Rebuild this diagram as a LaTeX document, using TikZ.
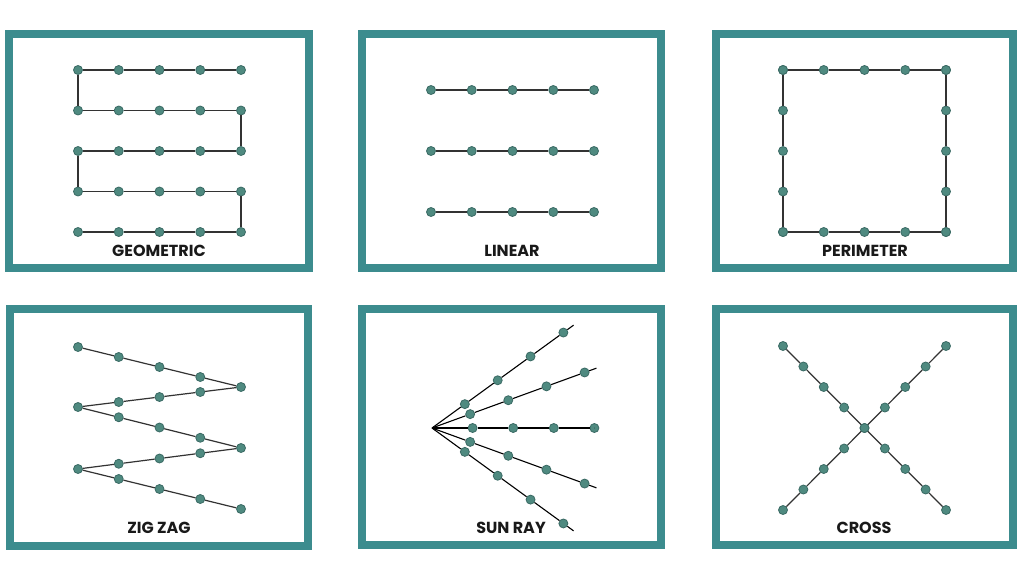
\documentclass[tikz,border=0pt]{standalone}
\usepackage{fontspec}
\setmainfont{Poppins}
\usetikzlibrary{calc}

\definecolor{frameteal}{HTML}{3C8C8E}
\definecolor{pinfill}{HTML}{4F8A80}
\definecolor{pinedge}{HTML}{3A6A64}

\begin{document}
\begin{tikzpicture}[x=1pt, y=-1pt,
  pin/.style={circle, fill=pinfill, draw=pinedge, line width=0.8pt, inner sep=0pt, minimum size=9pt},
  thread/.style={line width=1.2pt, draw=black!80},
  panel/.style={draw=frameteal, line width=8pt},
  caption/.style={font=\bfseries\fontsize{16}{16}\selectfont, text=black!90}]

\useasboundingbox[fill=white] (0,0) rectangle (1024,576);

% frames
\draw[panel] (9,34) rectangle (309,268);
\draw[panel] (362,34) rectangle (661,268);
\draw[panel] (716,34) rectangle (1013,268);
\draw[panel] (10,309) rectangle (308,546);
\draw[panel] (362,309) rectangle (661,545);
\draw[panel] (716,309) rectangle (1013,545);

% geometric
\foreach \j in {0,...,4} {
  \foreach \i in {0,...,4}
    \node[pin] (g-\i-\j) at (78+40.75*\i, 70+40.5*\j) {};
  \foreach \i [evaluate=\i as \n using int(\i+1)] in {0,...,3}
    \draw[thread] (g-\i-\j) -- (g-\n-\j);
}
\draw[thread] (g-0-0) -- (g-0-1);
\draw[thread] (g-4-1) -- (g-4-2);
\draw[thread] (g-0-2) -- (g-0-3);
\draw[thread] (g-4-3) -- (g-4-4);
\node[caption] (geolabel) at (159,251) {GEOMETRIC};

% linear
\foreach \j in {0,1,2} {
  \foreach \i in {0,...,4}
    \node[pin] (l-\i-\j) at (431+40.75*\i, 90+61*\j) {};
  \foreach \i [evaluate=\i as \n using int(\i+1)] in {0,...,3}
    \draw[thread] (l-\i-\j) -- (l-\n-\j);
}
\node[caption] (linlabel) at (512,251) {LINEAR};

% perimeter
\foreach \i in {0,...,4} {
  \node[pin] (p-\i-0) at (783+40.75*\i, 70) {};
  \node[pin] (p-\i-4) at (783+40.75*\i, 232) {};
  \node[pin] (p-0-\i) at (783, 70+40.5*\i) {};
  \node[pin] (p-4-\i) at (946, 70+40.5*\i) {};
}
\foreach \i [evaluate=\i as \n using int(\i+1)] in {0,...,3} {
  \draw[thread] (p-\i-0) -- (p-\n-0);
  \draw[thread] (p-\i-4) -- (p-\n-4);
  \draw[thread] (p-0-\i) -- (p-0-\n);
  \draw[thread] (p-4-\i) -- (p-4-\n);
}
\node[caption] (perlabel) at (865,251) {PERIMETER};

% zig zag
\foreach \k/\x/\y in {0/78/347, 1/241/387, 2/78/407, 3/241/448, 4/78/469, 5/241/509}
  \node[pin] (z-\k) at (\x,\y) {};
\foreach \k [evaluate=\k as \n using int(\k+1)] in {0,...,4} {
  \foreach \m in {1,2,3}
    \node[pin] (z-\k-\m) at ($(z-\k.center)!\m/4!(z-\n.center)$) {};
  \draw[thread] (z-\k) -- (z-\k-1) -- (z-\k-2) -- (z-\k-3) -- (z-\n);
}
\node[caption] (ziglabel) at (159,528) {ZIG ZAG};

% sun ray
\coordinate (s) at (432,428);
\foreach \a/\len [count=\r] in {36/175,20/175,0/162.4,-20/175,-36/175} {
  \foreach \k in {1,...,4}
    \node[pin] (s-\r-\k) at ($(s)+(\a:40.6*\k)$) {};
  \coordinate (s-\r-end) at ($(s)+(\a:\len)$);
  \draw[thread, line width=1.1pt, draw=black] (s) -- (s-\r-1) -- (s-\r-2) -- (s-\r-3) -- (s-\r-4) -- (s-\r-end);
}
\node[caption] (sunlabel) at (511,528) {SUN RAY};

% cross
\foreach \k in {0,...,8} {
  \node[pin] (ca-\k) at (783+20.375*\k, 346+20.5*\k) {};
  \node[pin] (cb-\k) at (946-20.375*\k, 346+20.5*\k) {};
}
\foreach \k [evaluate=\k as \n using int(\k+1)] in {0,...,7} {
  \draw[thread] (ca-\k) -- (ca-\n);
  \draw[thread] (cb-\k) -- (cb-\n);
}
\node[caption] (crosslabel) at (864,528) {CROSS};

\end{tikzpicture}
\end{document}
